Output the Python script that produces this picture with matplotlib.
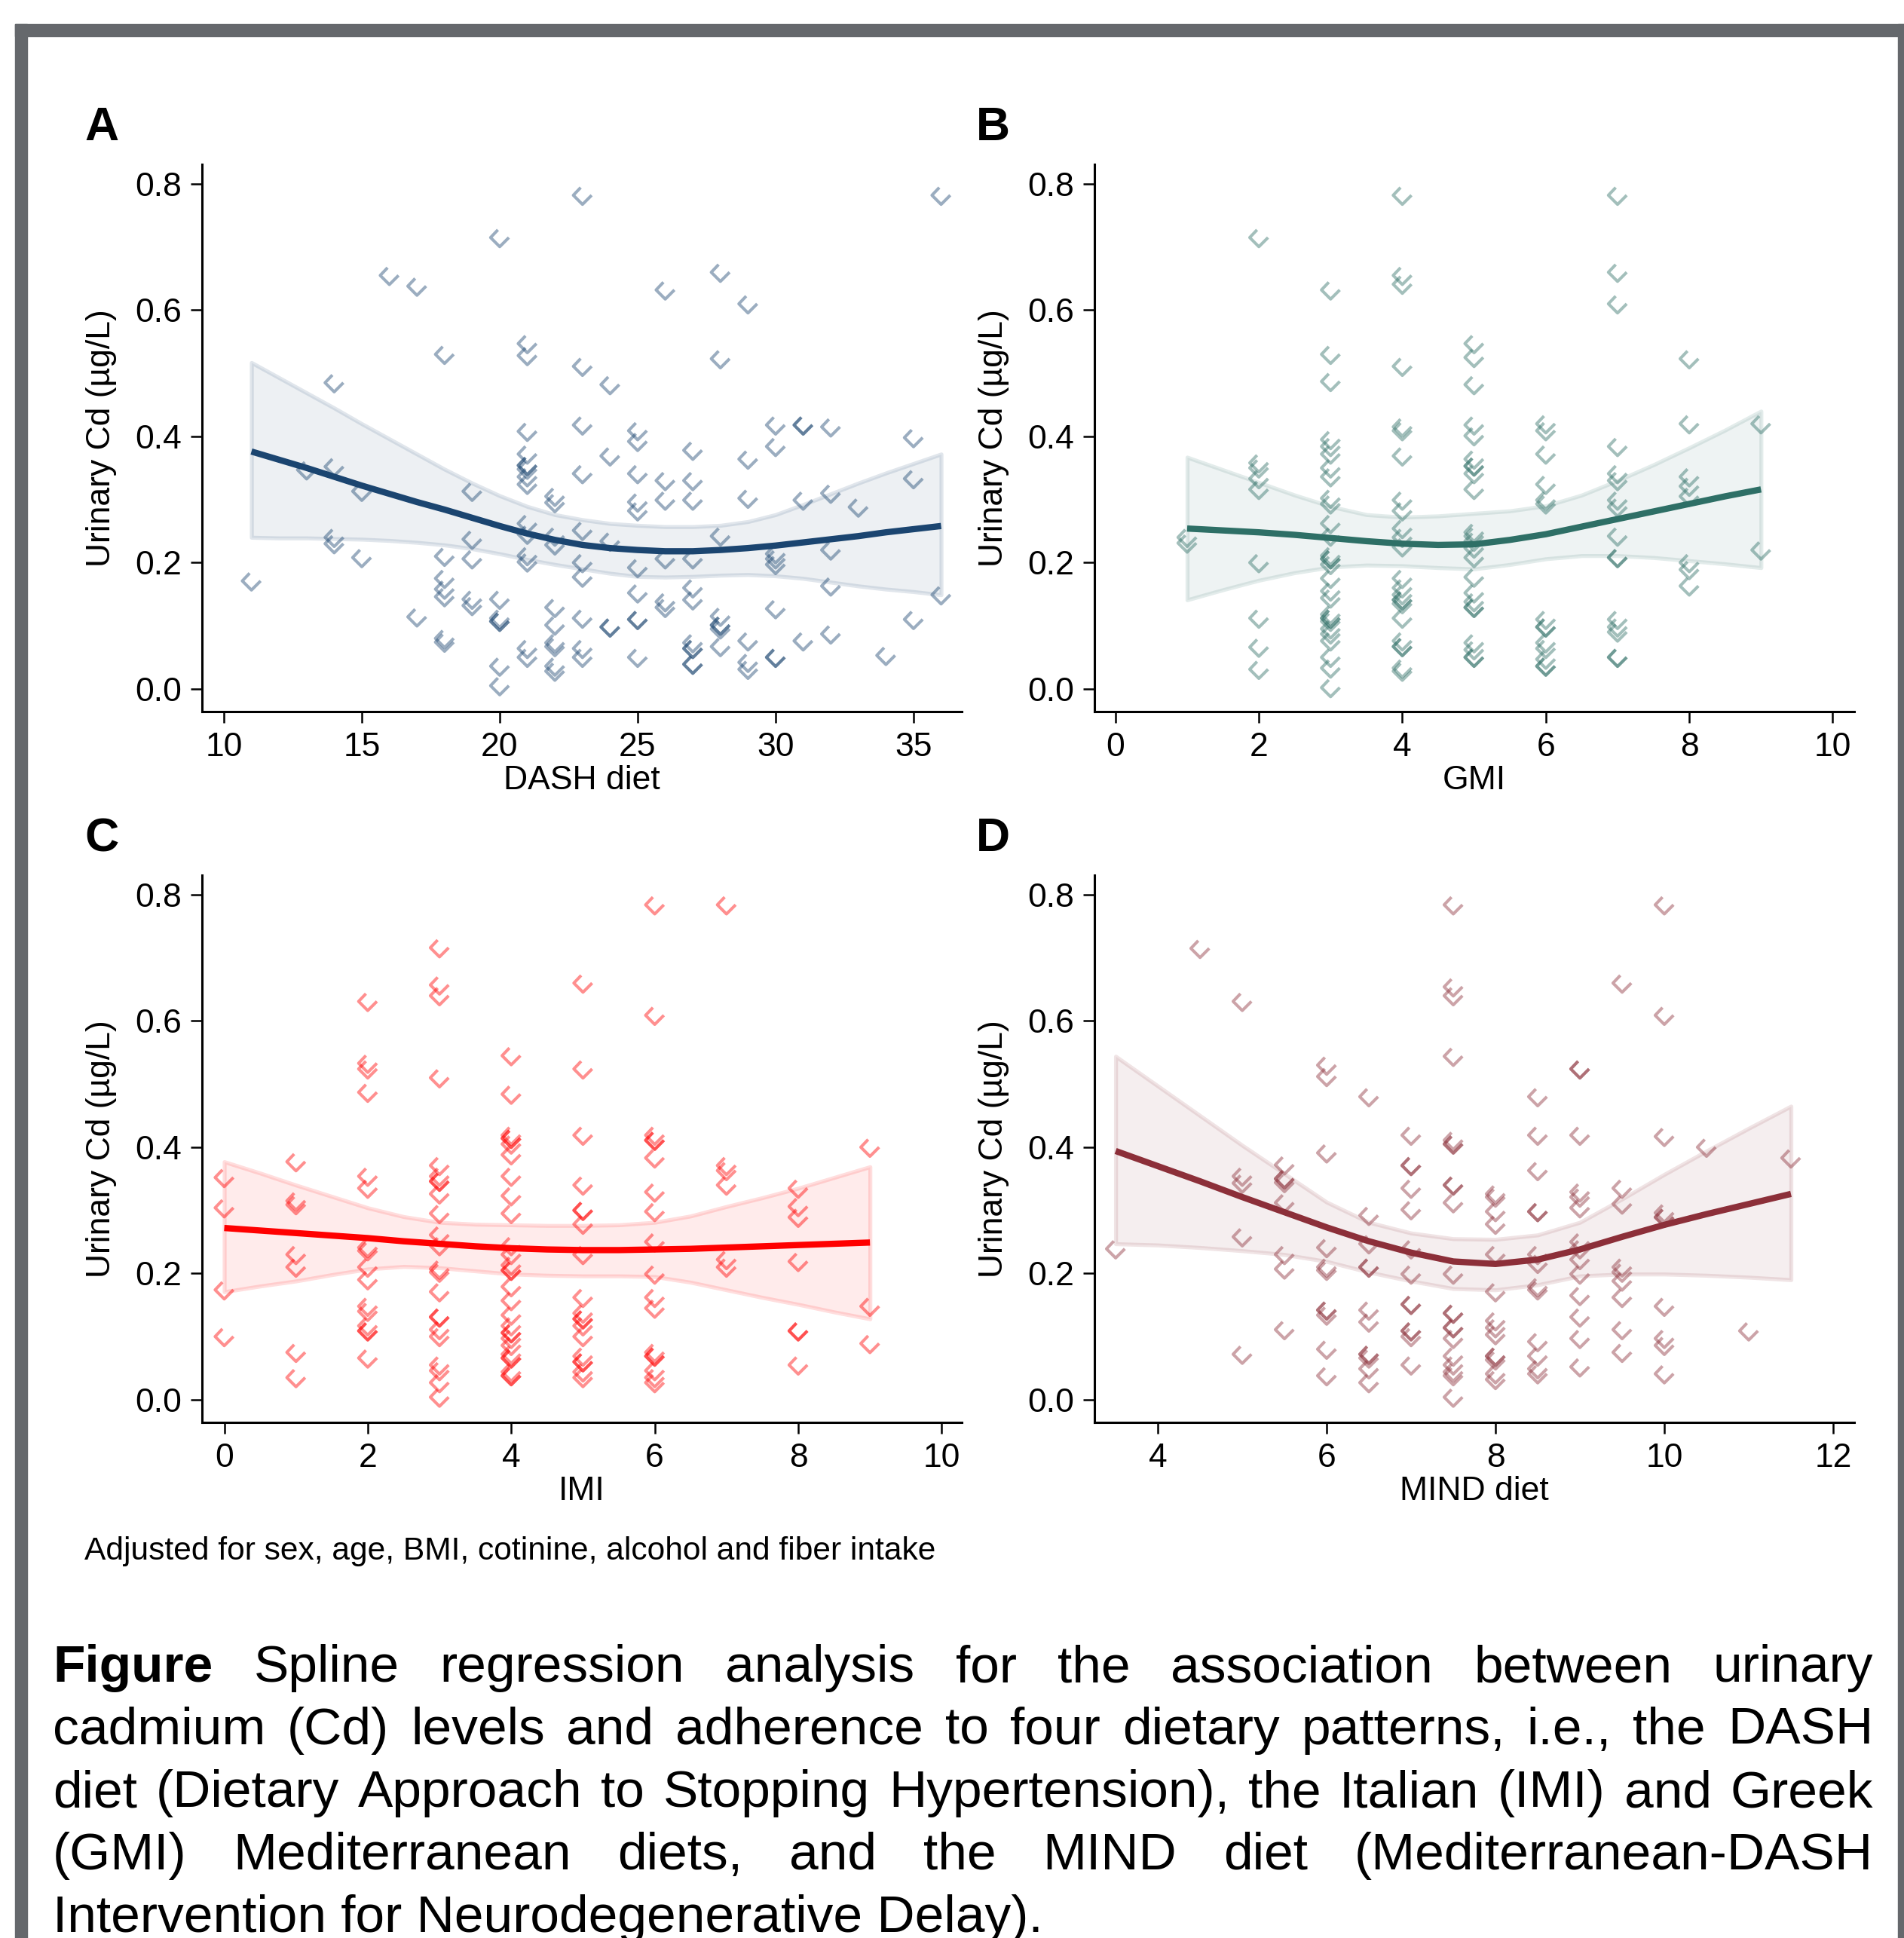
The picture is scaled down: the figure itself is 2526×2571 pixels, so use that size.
import numpy as np
import matplotlib
matplotlib.use("Agg")
from matplotlib import pyplot as plt
from matplotlib.path import Path
from matplotlib.patches import Rectangle
from matplotlib.ticker import FormatStrFormatter

plt.rcParams['font.family'] = ['Liberation Sans', 'DejaVu Sans']

# ---- scatter data: score -> urinary Cd values ----
dash_cd = {
    11: [0.171], 13: [0.347], 14: [0.485, 0.352, 0.24, 0.23], 15: [0.313, 0.208],
    16: [0.655], 17: [0.638, 0.114],
    18: [0.53, 0.21, 0.175, 0.158, 0.146, 0.08, 0.074],
    19: [0.313, 0.237, 0.206, 0.142, 0.132],
    20: [0.715, 0.142, 0.112, 0.107, 0.107, 0.036, 0.005],
    21: [0.547, 0.528, 0.408, 0.372, 0.354, 0.354, 0.348, 0.336, 0.324, 0.262, 0.245, 0.211, 0.201, 0.064, 0.05],
    22: [0.305, 0.295, 0.242, 0.228, 0.129, 0.101, 0.073, 0.067, 0.036, 0.028],
    23: [0.782, 0.511, 0.418, 0.341, 0.251, 0.2, 0.177, 0.112, 0.064, 0.05],
    24: [0.482, 0.369, 0.234, 0.098, 0.098],
    25: [0.409, 0.392, 0.341, 0.296, 0.282, 0.192, 0.152, 0.11, 0.11, 0.05],
    26: [0.632, 0.33, 0.299, 0.206, 0.138, 0.129],
    27: [0.378, 0.33, 0.299, 0.206, 0.16, 0.141, 0.073, 0.064, 0.064, 0.039, 0.039],
    28: [0.66, 0.523, 0.242, 0.115, 0.101, 0.101, 0.095, 0.067],
    29: [0.61, 0.364, 0.302, 0.076, 0.042, 0.031],
    30: [0.418, 0.384, 0.214, 0.206, 0.197, 0.127, 0.05, 0.05],
    31: [0.418, 0.418, 0.299, 0.076], 32: [0.415, 0.31, 0.22, 0.163, 0.087],
    33: [0.288], 34: [0.053], 35: [0.398, 0.333, 0.11], 36: [0.782, 0.149],
}
gmi_cd = {
    1: [0.24, 0.231],
    2: [0.715, 0.358, 0.35, 0.333, 0.316, 0.2, 0.112, 0.066, 0.031],
    3: [0.632, 0.53, 0.487, 0.395, 0.384, 0.372, 0.35, 0.336, 0.302, 0.293, 0.262, 0.242,
        0.211, 0.206, 0.206, 0.197, 0.175, 0.155, 0.144, 0.118, 0.112, 0.112, 0.107, 0.095,
        0.087, 0.076, 0.05, 0.033, 0.002],
    4: [0.782, 0.655, 0.641, 0.511, 0.415, 0.409, 0.369, 0.299, 0.282, 0.254, 0.24, 0.225,
        0.175, 0.16, 0.149, 0.141, 0.141, 0.135, 0.112, 0.076, 0.067, 0.067, 0.033, 0.028],
    5: [0.547, 0.525, 0.482, 0.418, 0.401, 0.364, 0.353, 0.353, 0.341, 0.316, 0.248, 0.242,
        0.234, 0.223, 0.208, 0.177, 0.152, 0.138, 0.129, 0.129, 0.073, 0.062, 0.05, 0.05],
    6: [0.42, 0.409, 0.372, 0.324, 0.299, 0.293, 0.11, 0.098, 0.098, 0.073, 0.064, 0.047, 0.036, 0.036],
    7: [0.782, 0.66, 0.61, 0.384, 0.341, 0.33, 0.299, 0.288, 0.242, 0.208, 0.208, 0.11, 0.098, 0.09, 0.05, 0.05],
    8: [0.523, 0.42, 0.336, 0.321, 0.305, 0.2, 0.189, 0.163],
    9: [0.42, 0.22],
}
imi_cd = {
    0: [0.352, 0.304, 0.174, 0.1],
    1: [0.377, 0.315, 0.309, 0.23, 0.21, 0.075, 0.035],
    2: [0.631, 0.533, 0.524, 0.487, 0.354, 0.335, 0.241, 0.236, 0.21, 0.19, 0.148, 0.14,
        0.117, 0.109, 0.109, 0.066],
    3: [0.716, 0.657, 0.64, 0.51, 0.371, 0.354, 0.346, 0.346, 0.326, 0.295, 0.261, 0.244,
        0.207, 0.202, 0.171, 0.131, 0.131, 0.111, 0.1, 0.055, 0.046, 0.027, 0.004],
    4: [0.545, 0.484, 0.419, 0.414, 0.414, 0.405, 0.388, 0.354, 0.323, 0.295, 0.244, 0.23,
        0.213, 0.205, 0.205, 0.179, 0.157, 0.134, 0.117, 0.106, 0.106, 0.097, 0.086, 0.072,
        0.066, 0.066, 0.044, 0.038, 0.038],
    5: [0.66, 0.524, 0.419, 0.34, 0.3, 0.3, 0.278, 0.23, 0.162, 0.137, 0.128, 0.128, 0.117,
        0.1, 0.069, 0.06, 0.06, 0.044, 0.035],
    6: [0.784, 0.609, 0.419, 0.411, 0.411, 0.383, 0.329, 0.298, 0.25, 0.199, 0.162, 0.145,
        0.075, 0.069, 0.069, 0.046, 0.035, 0.027],
    7: [0.784, 0.371, 0.363, 0.34, 0.222, 0.21],
    8: [0.335, 0.306, 0.289, 0.219, 0.109, 0.109, 0.055],
    9: [0.4, 0.148, 0.089],
}
mind_cd = {
    3.5: [0.239], 4.5: [0.715],
    5.0: [0.631, 0.354, 0.343, 0.258, 0.072],
    5.5: [0.372, 0.35, 0.35, 0.344, 0.312, 0.23, 0.207, 0.111],
    6.0: [0.53, 0.512, 0.391, 0.241, 0.21, 0.205, 0.142, 0.142, 0.134, 0.08, 0.038],
    6.5: [0.48, 0.292, 0.247, 0.21, 0.21, 0.142, 0.123, 0.072, 0.072, 0.066, 0.049, 0.027],
    7.0: [0.419, 0.371, 0.371, 0.335, 0.301, 0.239, 0.199, 0.151, 0.151, 0.109, 0.109, 0.1, 0.055],
    7.5: [0.784, 0.654, 0.64, 0.544, 0.411, 0.405, 0.405, 0.34, 0.34, 0.312, 0.199, 0.137,
          0.137, 0.114, 0.114, 0.097, 0.069, 0.055, 0.044, 0.038, 0.004],
    8.0: [0.326, 0.321, 0.298, 0.278, 0.23, 0.171, 0.125, 0.114, 0.103, 0.069, 0.069, 0.063,
          0.041, 0.032],
    8.5: [0.48, 0.419, 0.363, 0.298, 0.298, 0.23, 0.216, 0.179, 0.174, 0.092, 0.069, 0.049, 0.041],
    9.0: [0.524, 0.524, 0.419, 0.329, 0.321, 0.304, 0.25, 0.239, 0.222, 0.199, 0.165, 0.131,
          0.097, 0.052],
    9.5: [0.66, 0.335, 0.31, 0.21, 0.202, 0.188, 0.162, 0.111, 0.075],
    10.0: [0.784, 0.609, 0.417, 0.296, 0.289, 0.289, 0.148, 0.097, 0.086, 0.041],
    10.5: [0.4], 11.0: [0.109], 11.5: [0.383],
}

# ---- fitted spline and 95% CI ----
dash_grid = [11, 12, 13, 14, 15, 16, 17, 18, 19, 20, 21, 22, 23, 24, 25, 26, 27, 28, 29,
             30, 31, 32, 33, 34, 35, 36]
dash_fit = [0.376, 0.363, 0.350, 0.336, 0.322, 0.309, 0.296, 0.284, 0.271, 0.258, 0.246,
            0.236, 0.228, 0.223, 0.220, 0.218, 0.218, 0.220, 0.223, 0.227, 0.232, 0.237,
            0.242, 0.248, 0.253, 0.258]
dash_hi = [0.517, 0.493, 0.469, 0.445, 0.420, 0.396, 0.372, 0.348, 0.326, 0.306, 0.289,
           0.276, 0.268, 0.262, 0.259, 0.257, 0.257, 0.259, 0.265, 0.276, 0.292, 0.309,
           0.326, 0.342, 0.357, 0.372]
dash_lo = [0.240, 0.239, 0.239, 0.238, 0.237, 0.235, 0.232, 0.228, 0.222, 0.214, 0.205,
           0.197, 0.190, 0.183, 0.178, 0.177, 0.178, 0.180, 0.181, 0.179, 0.175, 0.169,
           0.163, 0.158, 0.154, 0.149]

gmi_grid = [1, 1.5, 2, 2.5, 3, 3.5, 4, 4.5, 5, 5.5, 6, 6.5, 7, 7.5, 8, 8.5, 9]
gmi_fit = [0.254, 0.251, 0.248, 0.244, 0.239, 0.234, 0.230, 0.228, 0.229, 0.236, 0.245,
           0.257, 0.269, 0.281, 0.293, 0.305, 0.316]
gmi_hi = [0.367, 0.347, 0.327, 0.307, 0.289, 0.276, 0.272, 0.274, 0.278, 0.282, 0.290,
          0.307, 0.330, 0.355, 0.382, 0.410, 0.440]
gmi_lo = [0.141, 0.157, 0.172, 0.184, 0.193, 0.196, 0.195, 0.192, 0.190, 0.197, 0.206,
          0.211, 0.211, 0.208, 0.203, 0.198, 0.192]

imi_grid = [0, 0.5, 1, 1.5, 2, 2.5, 3, 3.5, 4, 4.5, 5, 5.5, 6, 6.5, 7, 7.5, 8, 8.5, 9]
imi_fit = [0.272, 0.268, 0.264, 0.260, 0.256, 0.251, 0.247, 0.243, 0.240, 0.238, 0.237,
           0.237, 0.238, 0.239, 0.241, 0.243, 0.245, 0.247, 0.249]
imi_hi = [0.377, 0.359, 0.340, 0.322, 0.304, 0.290, 0.281, 0.278, 0.277, 0.276, 0.276,
          0.277, 0.281, 0.291, 0.306, 0.320, 0.335, 0.352, 0.369]
imi_lo = [0.171, 0.180, 0.188, 0.198, 0.207, 0.211, 0.209, 0.204, 0.199, 0.197, 0.196,
          0.196, 0.195, 0.186, 0.174, 0.162, 0.151, 0.139, 0.128]

mind_grid = [3.5, 4, 4.5, 5, 5.5, 6, 6.5, 7, 7.5, 8, 8.5, 9, 9.5, 10, 10.5, 11, 11.5]
mind_fit = [0.394, 0.370, 0.346, 0.321, 0.297, 0.273, 0.251, 0.233, 0.219, 0.215, 0.222,
            0.238, 0.258, 0.277, 0.294, 0.310, 0.326]
mind_hi = [0.544, 0.497, 0.450, 0.403, 0.358, 0.313, 0.281, 0.264, 0.255, 0.254, 0.261,
           0.281, 0.318, 0.357, 0.394, 0.430, 0.465]
mind_lo = [0.247, 0.245, 0.241, 0.236, 0.230, 0.219, 0.202, 0.188, 0.176, 0.174, 0.182,
           0.196, 0.199, 0.199, 0.197, 0.194, 0.190]

W, H = 2526, 2571
fig = plt.figure(figsize=(W / 100, H / 100), dpi=100)
fig.patch.set_facecolor("white")

# grey frame (top, left, right)
frame = "#65686c"
for (x0, y0, w, h) in [(20, 32, 2506, 16), (20, 32, 16, 2539), (2518, 32, 8, 2539)]:
    fig.patches.append(Rectangle((x0 / W, 1 - (y0 + h) / H), w / W, h / H,
                                 transform=fig.transFigure, color=frame, zorder=0))

mark = Path([(-0.1, 0.42), (-0.5, 0.0), (0.0, -0.5), (0.5, 0.0)],
            [Path.MOVETO, Path.LINETO, Path.LINETO, Path.LINETO])

panels = [
    ("A", dash_cd, dash_grid, dash_fit, dash_lo, dash_hi, "#1b4570", (9.208, 36.75),
     [10, 15, 20, 25, 30, 35], "DASH diet", (268, 944)),
    ("B", gmi_cd, gmi_grid, gmi_fit, gmi_lo, gmi_hi, "#2e6f66", (-0.292, 10.3),
     [0, 2, 4, 6, 8, 10], "GMI", (1452, 944)),
    ("C", imi_cd, imi_grid, imi_fit, imi_lo, imi_hi, "#ff0000", (-0.31, 10.28),
     [0, 2, 4, 6, 8, 10], "IMI", (268, 1887)),
    ("D", mind_cd, mind_grid, mind_fit, mind_lo, mind_hi, "#8c2f39", (3.249, 12.25),
     [4, 6, 8, 10, 12], "MIND diet", (1452, 1887)),
]

for letter, pts, grid, fit, lo, hi, col, xlim, xt, xlab, (px, py) in panels:
    ax = fig.add_axes([px / W, 1 - py / H, 1008 / W, 726 / H])
    xs = [k for k, v in pts.items() for _ in v]
    ys = [y for v in pts.values() for y in v]
    rgb = matplotlib.colors.to_rgb(col)
    ax.fill_between(grid, lo, hi, facecolor=rgb + (0.08,), edgecolor=rgb + (0.13,),
                    linewidth=3.8, zorder=1)
    ax.scatter(xs, ys, s=17.5 ** 2, marker=mark, facecolors="none",
               edgecolors=[rgb + (0.44,)], linewidths=2.9, zorder=2)
    ax.plot(grid, fit, color=col, linewidth=6.0, solid_capstyle="butt",
            solid_joinstyle="round", zorder=3)

    ax.set_xlim(*xlim)
    ax.set_ylim(-0.036, 0.831)
    ax.set_xticks(xt)
    ax.set_yticks([0, 0.2, 0.4, 0.6, 0.8])
    ax.yaxis.set_major_formatter(FormatStrFormatter("%.1f"))
    for s in ["top", "right"]:
        ax.spines[s].set_visible(False)
    for s in ["left", "bottom"]:
        ax.spines[s].set_linewidth(2.2)
    ax.tick_params(length=10.8, width=1.8, pad=8.5, labelsize=32, direction="out")
    ax.set_xlabel(xlab, fontsize=32)
    ax.xaxis.set_label_coords(0.5, -0.098)
    ax.set_ylabel("Urinary Cd (µg/L)", fontsize=32)
    ax.yaxis.set_label_coords(-0.112, 0.5)

    fig.text((112 if px < 1000 else 1295) / W, 1 - (py - 758) / H, letter,
             fontsize=45, fontweight="bold", va="baseline")

fig.text(112 / W, 1 - 2069 / H, "Adjusted for sex, age, BMI, cotinine, alcohol and fiber intake",
         fontsize=30.6, va="baseline")

# justified caption
cap_lines = [
    "Figure Spline regression analysis for the association between urinary",
    "cadmium (Cd) levels and adherence to four dietary patterns, i.e., the DASH",
    "diet (Dietary Approach to Stopping Hypertension), the Italian (IMI) and Greek",
    "(GMI) Mediterranean diets, and the MIND diet (Mediterranean-DASH",
]
cap_fs = 50
left, right = 70, 2485
renderer = fig.canvas.get_renderer()
for i, line in enumerate(cap_lines):
    base = 2231 + 83 * i
    words = line.split(" ")
    texts = []
    for j, w in enumerate(words):
        bold = (i == 0 and j == 0)
        texts.append(fig.text(0, 1 - base / H, w, fontsize=cap_fs, va="baseline",
                              fontweight="bold" if bold else "normal"))
    widths = [t.get_window_extent(renderer).width for t in texts]
    gap = (right - left - sum(widths)) / (len(words) - 1)
    x = left
    for t, wd in zip(texts, widths):
        t.set_x(x / W)
        x += wd + gap
fig.text(left / W, 1 - (2231 + 83 * 4) / H, "Intervention for Neurodegenerative Delay).",
         fontsize=cap_fs, va="baseline")

fig.savefig("out.png", dpi=100, facecolor="white")
